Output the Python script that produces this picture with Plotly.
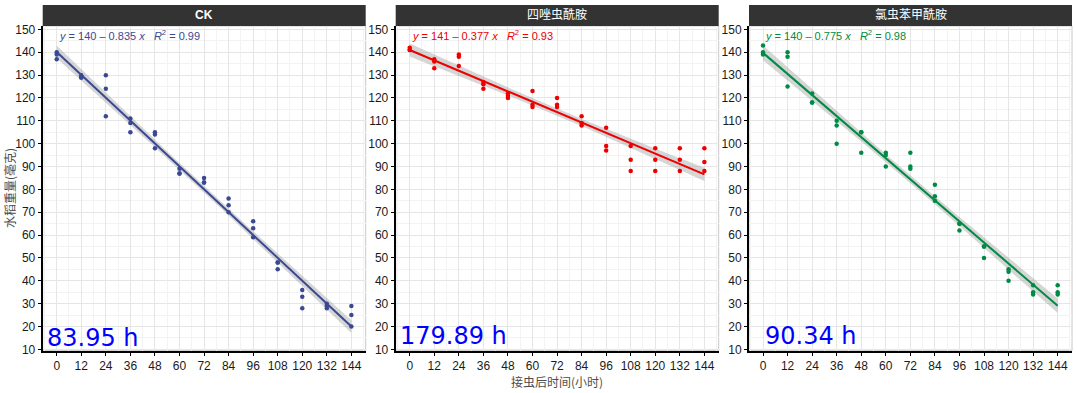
import numpy as np
import plotly.graph_objects as go

# ---------------- data ----------------
hours = [0, 12, 24, 36, 48, 60, 72, 84, 96, 108, 120, 132, 144]

ck_weight = [[140, 139, 137], [130, 129, 129], [130, 124, 112], [111, 109, 105],
             [105, 104, 98], [89, 87, 87], [85, 83, 83], [76, 73, 70],
             [66, 63, 59], [48, 48, 45], [36, 33, 28], [30, 29, 28], [29, 25, 20]]

tetra_weight = [[142, 141, 141], [137, 136, 133], [139, 138, 134], [127, 126, 124],
                [122, 121, 120], [123, 117, 116], [120, 117, 116], [112, 109, 108],
                [107, 99, 97], [99, 93, 88], [98, 93, 88], [98, 93, 88], [98, 92, 88]]

chlor_weight = [[143, 140, 139], [140, 138, 125], [122, 118, 118], [110, 108, 100],
                [105, 105, 96], [96, 95, 90], [96, 90, 89], [82, 77, 75],
                [65, 65, 62], [55, 55, 50], [45, 44, 40], [38, 35, 34], [38, 35, 34]]

panel_titles = ["CK", "四唑虫酰胺", "氯虫苯甲酰胺"]
equations = ["y = 140 – 0.835 x", "y = 141 – 0.377 x", "y = 140 – 0.775 x"]
r2_values = ["0.99", "0.93", "0.98"]
big_labels = ["83.95 h", "179.89 h", "90.34 h"]
series_colors = ["#3B4992", "#EE0000", "#008B45"]

x_ticks = list(range(0, 145, 12))
y_ticks = list(range(10, 151, 10))

# ---------------- layout geometry ----------------
W, H = 1077, 393
x_domains = [[42.7 / W, 365.7 / W], [395.7 / W, 718.7 / W], [749 / W, 1072 / W]]
y_domain = [(H - 350.7) / H, (H - 26) / H]
strip_y = [(H - 26) / H, (H - 5) / H]
x_range = [-6.85, 151.0]
y_range = [9.4, 151.5]
big_label_x = [-5.1, -5.3, 0.4]
big_label_y = [15.0, 15.9, 15.9]

T_CRIT = 2.026  # 95% t quantile, df = 37

fig = go.Figure()
datasets = [ck_weight, tetra_weight, chlor_weight]

for i, data in enumerate(datasets):
    xs = np.repeat(hours, 3).astype(float)
    ys = np.array(data, dtype=float).ravel()
    n = len(xs)
    b, a = np.polyfit(xs, ys, 1)
    resid = ys - (a + b * xs)
    s = np.sqrt(np.sum(resid ** 2) / (n - 2))
    xbar = xs.mean()
    sxx = np.sum((xs - xbar) ** 2)
    xl = np.linspace(min(hours), max(hours), 80)
    yl = a + b * xl
    se = s * np.sqrt(1.0 / n + (xl - xbar) ** 2 / sxx)
    lo, hi = yl - T_CRIT * se, yl + T_CRIT * se

    xa = "x" if i == 0 else f"x{i+1}"
    ya = "y" if i == 0 else f"y{i+1}"
    col = series_colors[i]

    fig.add_trace(go.Scatter(
        x=np.concatenate([xl, xl[::-1]]), y=np.concatenate([hi, lo[::-1]]),
        fill="toself", fillcolor="rgba(153,153,153,0.4)", line=dict(width=0),
        mode="lines", hoverinfo="skip", showlegend=False, xaxis=xa, yaxis=ya))
    fig.add_trace(go.Scatter(
        x=xs, y=ys, mode="markers", marker=dict(color=col, size=4.5),
        showlegend=False, xaxis=xa, yaxis=ya))
    fig.add_trace(go.Scatter(
        x=xl, y=yl, mode="lines", line=dict(color=col, width=2),
        showlegend=False, xaxis=xa, yaxis=ya))

tick_font = dict(family="Liberation Sans, Arial, sans-serif", size=12, color="#1A1A1A")

shapes = []
annotations = []
for i in range(3):
    sfx = "" if i == 0 else str(i + 1)
    xa_key = "xaxis" + sfx
    ya_key = "yaxis" + sfx
    fig.layout[xa_key] = dict(
        domain=x_domains[i], range=x_range, anchor="y" + sfx,
        tickmode="array", tickvals=x_ticks, ticktext=[str(t) for t in x_ticks],
        showgrid=True, gridcolor="#E6E6E6", gridwidth=1,
        minor=dict(dtick=6, tick0=0, showgrid=True, gridcolor="#F3F3F3", gridwidth=1, ticks=""),
        zeroline=False, showline=True, linecolor="black", linewidth=2,
        ticks="outside", ticklen=3, tickcolor="black", tickwidth=1,
        tickfont=tick_font, automargin=False, fixedrange=True)
    fig.layout[ya_key] = dict(
        domain=y_domain, range=y_range, anchor="x" + sfx,
        tickmode="array", tickvals=y_ticks, ticktext=[str(t) for t in y_ticks],
        showgrid=True, gridcolor="#E6E6E6", gridwidth=1,
        minor=dict(dtick=5, tick0=0, showgrid=True, gridcolor="#F3F3F3", gridwidth=1, ticks=""),
        zeroline=False, showline=True, linecolor="black", linewidth=2,
        ticks="outside", ticklen=3, tickcolor="black", tickwidth=1,
        tickfont=tick_font, automargin=False, fixedrange=True)

    xref_dom = ("x" + sfx) + " domain"
    yref_dom = ("y" + sfx) + " domain"
    # panel border
    shapes.append(dict(type="rect", xref=xref_dom, yref=yref_dom, x0=0, x1=1, y0=0, y1=1,
                       line=dict(color="#C8C8C8", width=1), layer="below"))
    # strip
    shapes.append(dict(type="rect", xref=xref_dom, yref="paper", x0=0, x1=1,
                       y0=strip_y[0], y1=strip_y[1], fillcolor="#333333",
                       line=dict(width=0), layer="above"))
    annotations.append(dict(
        xref=xref_dom, yref="paper", x=0.5, y=(strip_y[0] + strip_y[1]) / 2,
        text=("<b>%s</b>" % panel_titles[i]) if i == 0 else panel_titles[i],
        showarrow=False, xanchor="center", yanchor="middle",
        font=dict(family="Liberation Sans, Noto Sans CJK SC, sans-serif", size=12, color="white")))
    # equation
    eq = equations[i].replace("y =", "<i>y</i> =").replace(" x", " <i>x</i>")
    eq_text = eq + "&nbsp;&nbsp;&nbsp;<i>R</i><sup>2</sup> = " + r2_values[i]
    annotations.append(dict(
        xref="x" + sfx, yref="y" + sfx, x=0.5, y=147.5, text=eq_text,
        showarrow=False, xanchor="left", yanchor="middle", borderpad=0,
        font=dict(family="Liberation Sans, Arial, sans-serif", size=11, color=series_colors[i])))
    # big label
    annotations.append(dict(
        xref="x" + sfx, yref="y" + sfx, x=big_label_x[i], y=big_label_y[i], text=big_labels[i],
        showarrow=False, xanchor="left", yanchor="middle", borderpad=0,
        font=dict(family="DejaVu Sans, sans-serif", size=24, color="#0000FF")))

# axis titles
annotations.append(dict(
    xref="paper", yref="paper", x=10 / W, y=(H - 188) / H, text="水稻重量(毫克)",
    textangle=-90, showarrow=False, xanchor="center", yanchor="middle",
    font=dict(family="Noto Sans CJK SC, sans-serif", size=12, color="#4D4D4D")))
annotations.append(dict(
    xref="paper", yref="paper", x=557 / W, y=(H - 381) / H, text="接虫后时间(小时)",
    showarrow=False, xanchor="center", yanchor="middle",
    font=dict(family="Noto Sans CJK SC, sans-serif", size=12, color="#4D4D4D")))

fig.update_layout(
    width=W, height=H, margin=dict(l=0, r=0, t=0, b=0, pad=0),
    paper_bgcolor="white", plot_bgcolor="white",
    shapes=shapes, annotations=annotations, showlegend=False)

fig.write_html("out.html", config={"displayModeBar": False},
               post_script="document.body.style.margin='0';document.body.style.overflow='hidden';")
